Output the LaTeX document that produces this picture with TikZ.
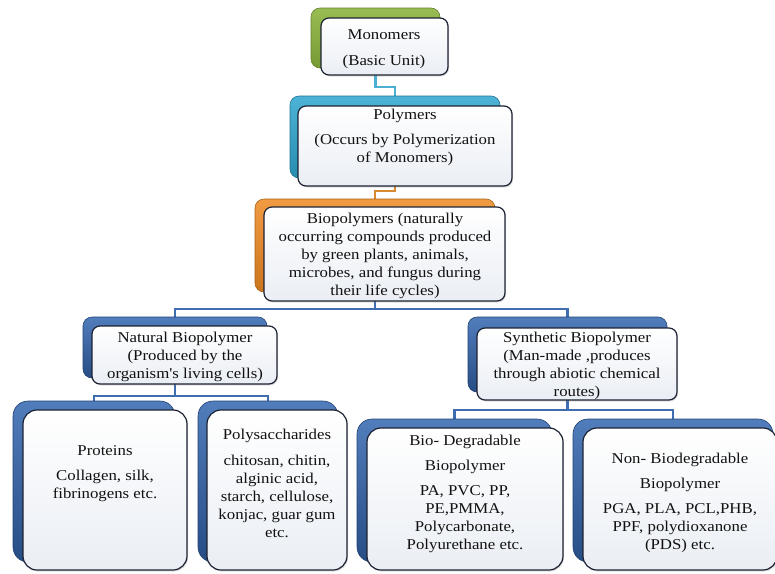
\documentclass[tikz,border=0pt]{standalone}
\usepackage{fontspec}
\setmainfont{Liberation Serif}[FakeStretch=1.12, Ligatures=TeXOff]
\usetikzlibrary{shadows}
\pgfdeclarelayer{bg}
\pgfsetlayers{bg,main}
\definecolor{gB}{HTML}{8DB53F}
\definecolor{cB}{HTML}{2EA6CF}
\definecolor{oB}{HTML}{EE8A22}
\definecolor{dB}{HTML}{3366B0}
\definecolor{edgec}{HTML}{1C2232}
\definecolor{fbot}{HTML}{EAEEF4}
\definecolor{txt}{HTML}{111111}
\definecolor{lnC}{HTML}{4AAFD0}
\definecolor{lnO}{HTML}{D98A30}
\definecolor{lnB}{HTML}{3E6DB0}
\tikzset{
  backbox/.style={rounded corners=#1, inner sep=0pt, line width=0.6pt},
  gback/.style={draw=gB!70!black, top color=gB!90!white, bottom color=gB!85!black},
  cback/.style={draw=cB!70!black, top color=cB!85!white, bottom color=cB!85!black},
  oback/.style={draw=oB!70!black, top color=oB!85!white, bottom color=oB!85!black},
  dback/.style={draw=dB!65!black, top color=dB!85!white, bottom color=dB!75!black},
  frontbox/.style={rounded corners=#1, inner sep=0pt, draw=edgec, line width=1.2pt,
     top color=white, bottom color=fbot,
     drop shadow={opacity=0.25, shadow xshift=1pt, shadow yshift=-1.5pt}},
  lbl/.style={align=center, inner sep=0pt, text=txt, font=\fontsize{15}{18}\selectfont},
  conn/.style={line width=2.4pt},
}
\begin{document}
\begin{tikzpicture}[x=1pt,y=-1pt]
\useasboundingbox (0,0) rectangle (775,573);
% back boxes
\node[backbox=9pt, gback, minimum width=129, minimum height=60] (mB) at (375.5,38) {};
\node[backbox=9pt, cback, minimum width=210, minimum height=82] (pB) at (395,137) {};
\node[backbox=9pt, oback, minimum width=240, minimum height=93] (bB) at (375,245.5) {};
\node[backbox=9pt, dback, minimum width=184, minimum height=61] (nB) at (175,347.5) {};
\node[backbox=9pt, dback, minimum width=199, minimum height=75] (sB) at (567.5,354.5) {};
\node[backbox=15pt, dback, minimum width=162, minimum height=161] (prB) at (94,481.5) {};
\node[backbox=15pt, dback, minimum width=140, minimum height=161] (poB) at (268,481.5) {};
\node[backbox=15pt, dback, minimum width=195, minimum height=143] (bdB) at (454.5,490.5) {};
\node[backbox=15pt, dback, minimum width=200, minimum height=143] (ndB) at (673,490.5) {};
% elbow coordinates
\coordinate (e1) at (385,87);
\coordinate (e2) at (385,191);
\coordinate (e3) at (375,309);
\coordinate (e4) at (175,396);
\coordinate (e5) at (567,410);
% connectors
\begin{pgfonlayer}{bg}
\fill[white] (0,0) rectangle (775,573);
\draw[conn, lnC] (mB.center) |- (e1) -| (pB.north);
\draw[conn, lnO] (pB.center) |- (e2) -| (bB.north);
\draw[conn, lnB] (bB.center) |- (e3) -| (nB.north);
\draw[conn, lnB] (bB.center) |- (e3) -| (sB.north);
\draw[conn, lnB] (nB.center) |- (e4) -| (prB.north);
\draw[conn, lnB] (nB.center) |- (e4) -| (poB.north);
\draw[conn, lnB] (sB.center) |- (e5) -| (bdB.north);
\draw[conn, lnB] (sB.center) |- (e5) -| (ndB.north);
\end{pgfonlayer}
% front boxes
\node[frontbox=8pt, minimum width=127, minimum height=57] (mF) at (384.5,46.5) {};
\node[frontbox=8pt, minimum width=214, minimum height=80] (pF) at (405,146) {};
\node[frontbox=8pt, minimum width=241, minimum height=94] (bF) at (384.5,254) {};
\node[frontbox=8pt, minimum width=185, minimum height=58] (nF) at (184.5,355) {};
\node[frontbox=8pt, minimum width=200, minimum height=72] (sF) at (577,364) {};
\node[frontbox=14pt, minimum width=164, minimum height=160] (prF) at (105,490) {};
\node[frontbox=14pt, minimum width=140, minimum height=160] (poF) at (277,490) {};
\node[frontbox=14pt, minimum width=196, minimum height=142] (bdF) at (465,499) {};
\node[frontbox=14pt, minimum width=194, minimum height=142] (ndF) at (680,499) {};
% texts
\node[lbl] (mT) at (384,49) {Monomers\\[8pt](Basic Unit)};
\node[lbl] (pT) at (405,137.5) {Polymers\\[7pt](Occurs by Polymerization\\of Monomers)};
\node[lbl] (bT) at (385,256) {Biopolymers (naturally\\occurring compounds produced\\by green plants, animals,\\microbes, and fungus during\\their life cycles)};
\node[lbl] (nT) at (185,357) {Natural Biopolymer\\(Produced by the\\organism's living cells)};
\node[lbl] (sT) at (577,366) {Synthetic Biopolymer\\(Man-made ,produces\\through abiotic chemical\\routes)};
\node[lbl] (prT) at (105,473.5) {Proteins\\[7pt]Collagen, silk,\\fibrinogens etc.};
\node[lbl] (poT) at (277,483) {Polysaccharides\\[8pt]chitosan, chitin,\\alginic acid,\\starch, cellulose,\\konjac, guar gum\\etc.};
\node[lbl] (bdT) at (465,494) {Bio- Degradable\\[7pt]Biopolymer\\[7pt]PA, PVC, PP,\\PE,PMMA,\\Polycarbonate,\\Polyurethane etc.};
\node[lbl] (ndT) at (680,503) {Non- Biodegradable\\[7pt]Biopolymer\\[7pt]PGA, PLA, PCL,PHB,\\PPF, polydioxanone\\(PDS) etc.};
\end{tikzpicture}
\end{document}
